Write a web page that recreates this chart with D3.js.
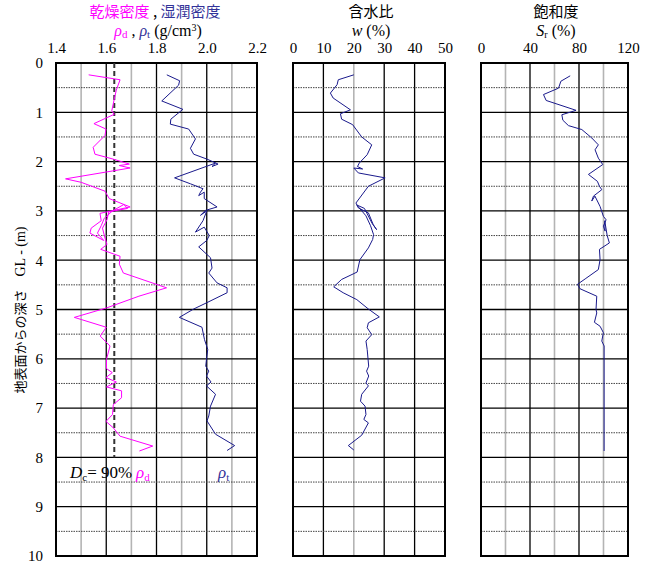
<!DOCTYPE html>
<html>
<head>
<meta charset="utf-8">
<script src="https://cdn.jsdelivr.net/npm/d3@7"></script>
<style>
body { margin: 0; background: #fff; }
</style>
</head>
<body>
<script>
// depth (m), value
var rhoD = [[0.24,1.53],[0.34,1.655],[0.55,1.64],[0.73,1.632],[0.97,1.622],[1.04,1.632],[1.23,1.551],[1.34,1.599],[1.47,1.595],[1.71,1.548],[1.85,1.555],[1.95,1.628],[2.05,1.692],[2.08,1.652],[2.13,1.695],[2.35,1.438],[2.42,1.50],[2.6,1.595],[2.75,1.612],[2.92,1.695],[2.99,1.63],[3.05,1.575],[3.2,1.58],[3.35,1.54],[3.45,1.535],[3.6,1.59],[3.45,1.565],[3.3,1.58],[3.15,1.592],[3.0,1.625],[2.87,1.67],[2.95,1.685],[3.02,1.61],[3.18,1.603],[3.35,1.585],[3.55,1.595],[3.68,1.603],[3.78,1.578],[3.92,1.655],[4.08,1.652],[4.26,1.668],[4.56,1.84],[4.73,1.73],[4.97,1.60],[5.16,1.473],[5.36,1.60],[5.54,1.576],[5.74,1.615],[6.01,1.601],[6.2,1.601],[6.28,1.624],[6.38,1.599],[6.47,1.64],[6.57,1.601],[6.65,1.661],[6.79,1.661],[6.93,1.628],[7.13,1.625],[7.27,1.599],[7.4,1.628],[7.57,1.655],[7.77,1.785],[7.87,1.732]]

var rhoT = [[0.24,1.841],[0.36,1.892],[0.45,1.888],[0.77,1.821],[0.94,1.905],[1.14,1.857],[1.24,1.855],[1.34,1.928],[1.54,1.955],[1.73,1.935],[1.85,1.948],[1.95,2.001],[2.05,2.045],[2.1,2.021],[2.03,2.035],[2.33,1.872],[2.45,1.935],[2.55,1.985],[2.62,1.975],[2.69,1.968],[2.62,1.99],[2.75,1.99],[2.92,2.041],[2.99,1.995],[3.09,1.975],[3.0,2.0],[3.2,1.985],[3.43,1.955],[3.33,1.99],[3.5,2.01],[3.6,2.0],[3.73,1.968],[3.95,2.015],[4.16,2.021],[4.26,2.008],[4.46,2.041],[4.56,2.081],[4.66,2.081],[4.86,2.001],[4.99,1.948],[5.16,1.891],[5.36,1.981],[5.61,1.991],[5.81,2.004],[6.01,1.999],[6.15,1.996],[6.25,2.008],[6.35,1.999],[6.47,2.017],[6.55,1.999],[6.72,2.035],[6.96,2.015],[7.16,2.008],[7.26,2.001],[7.53,2.035],[7.76,2.111],[7.86,2.081]]

var water = [[0.24,20.0],[0.34,14.9],[0.44,14.5],[0.61,12.3],[0.71,13.2],[0.95,18.9],[1.03,15.6],[1.14,16.0],[1.25,19.6],[1.5,22.6],[1.66,25.9],[1.86,24.4],[2.03,21.8],[2.1,21.2],[2.15,22.9],[2.13,20.0],[2.23,21.5],[2.33,30.3],[2.5,24.8],[2.84,20.7],[2.94,21.5],[3.04,24.8],[3.28,26.4],[3.38,27.5],[3.25,26.0],[2.95,23.5],[2.88,21.0],[3.1,24.0],[3.3,25.5],[3.48,26.5],[3.58,26.2],[3.75,24.8],[3.99,22.0],[4.24,21.1],[4.39,16.0],[4.54,13.4],[4.66,16.5],[4.8,21.0],[4.99,24.8],[5.15,28.4],[5.27,24.8],[5.37,24.4],[5.51,25.9],[5.64,24.0],[5.81,24.4],[6.15,24.9],[6.25,24.2],[6.35,24.9],[6.49,24.0],[6.55,24.8],[6.72,22.6],[6.86,22.2],[6.96,23.7],[7.13,24.0],[7.23,23.3],[7.3,24.8],[7.55,22.6],[7.76,18.2],[7.85,20.0]]

var satur = [[0.26,72.8],[0.37,65.2],[0.51,63.3],[0.64,51.0],[0.76,53.2],[0.96,77.6],[1.05,66.0],[1.16,66.8],[1.27,71.4],[1.35,82.3],[1.52,90.4],[1.66,95.8],[1.76,93.1],[1.93,95.8],[2.06,99.4],[2.26,87.7],[2.4,95],[2.5,96.7],[2.57,98.6],[2.7,91.8],[2.8,90.4],[2.7,93],[2.91,97.2],[3.11,99.9],[3.18,102.1],[3.31,99.9],[3.41,101.3],[3.2,101],[3.5,103],[3.65,104.8],[3.78,96.7],[3.99,97.2],[4.19,95.8],[4.38,85.0],[4.49,78.7],[4.58,80.9],[4.73,94.5],[5.0,93.9],[5.07,94.5],[5.26,92.6],[5.34,97.2],[5.47,99.9],[5.64,98.6],[5.74,100.5],[7.87,100.5]]

var dc90 = 1.632
var depthTicks = [0,1,2,3,4,5,6,7,8,9,10]
var ticksD = [1.4,1.6,1.8,2.0,2.2]
var ticksW = [0,10,20,30,40,50]
var ticksS = [0,40,80,120]
var gridD = [1.5,1.6,1.7,1.8,1.9,2.0,2.1]
var majorD = [1.6,1.8,2.0]
var gridW = [10,20,30,40]
var majorW = [10,30,40]
var gridS = [20,40,60,80,100]
var majorS = [40,80]

let width = 648
let height = 562
const serif = "Liberation Serif"
const gothic = "Noto Sans CJK JP"

var y = d3.scaleLinear().domain([0,10]).range([63,556])
var xD = d3.scaleLinear().domain([1.4,2.2]).range([56,257])
var xW = d3.scaleLinear().domain([0,50]).range([293,445])
var xS = d3.scaleLinear().domain([0,120]).range([481,628])

let svg = d3.select("body").append("svg")
    .attr("width", width)
    .attr("height", height)
    .attr("font-family", serif)

function panel(x, grid, major, ticks, fmt) {
    let g = svg.append("g")
    // vertical grid
    g.selectAll(".vg").data(grid).enter()
        .append("line")
        .attr("x1", d => x(d)).attr("x2", d => x(d))
        .attr("y1", y(0)).attr("y2", y(10))
        .attr("stroke", d => major.includes(d) ? "#000" : "#b4b4b4")
        .attr("stroke-width", d => major.includes(d) ? 1.3 : 1.6)
    // half-metre dotted lines
    g.selectAll(".hd").data(d3.range(0.5, 10, 1)).enter()
        .append("line")
        .attr("x1", x.range()[0]).attr("x2", x.range()[1])
        .attr("y1", d => y(d)).attr("y2", d => y(d))
        .attr("stroke", "#444").attr("stroke-width", 1)
        .attr("stroke-dasharray", "1.5,1")
    // metre lines
    g.selectAll(".hm").data(depthTicks.slice(1, 10)).enter()
        .append("line")
        .attr("x1", x.range()[0]).attr("x2", x.range()[1])
        .attr("y1", d => y(d)).attr("y2", d => y(d))
        .attr("stroke", "#000").attr("stroke-width", 1.3)
    g.append("rect")
        .attr("x", x.range()[0]).attr("y", y(0))
        .attr("width", x.range()[1] - x.range()[0])
        .attr("height", y(10) - y(0))
        .attr("fill", "none").attr("stroke", "#000").attr("stroke-width", 2)
    // top tick labels
    let ax = svg.append("g")
        .attr("transform", "translate(0," + (y(0) - 7) + ")")
        .call(d3.axisTop(x).tickValues(ticks).tickFormat(fmt).tickSize(0))
    ax.select(".domain").remove()
    ax.selectAll("text").attr("fill", "#000")
        .attr("font-family", serif).attr("font-size", 15)
}

panel(xD, gridD, majorD, ticksD, d3.format(".1f"))
panel(xW, gridW, majorW, ticksW, d3.format("d"))
panel(xS, gridS, majorS, ticksS, d3.format("d"))

// depth labels
let ay = svg.append("g")
    .attr("transform", "translate(46,0)")
    .call(d3.axisLeft(y).tickValues(depthTicks).tickFormat(d3.format("d")).tickSize(0))
ay.select(".domain").remove()
ay.selectAll("text").attr("fill", "#000")
    .attr("font-family", serif).attr("font-size", 15)

// Dc = 90% line
svg.append("line")
    .attr("x1", xD(dc90)).attr("x2", xD(dc90))
    .attr("y1", y(0)).attr("y2", y(8))
    .attr("stroke", "#333").attr("stroke-width", 2)
    .attr("stroke-dasharray", "5,3")

function curve(data, x, color) {
    svg.append("path")
        .datum(data)
        .attr("d", d3.line().x(d => x(d[1])).y(d => y(d[0])))
        .attr("fill", "none")
        .attr("stroke", color)
        .attr("stroke-width", 1)
}
curve(rhoD, xD, "#ff00ff")
curve(rhoT, xD, "#1a1a8c")
curve(water, xW, "#1a1a8c")
curve(satur, xS, "#1a1a8c")

// titles
let t1 = svg.append("text").attr("x", 155).attr("y", 17)
    .attr("text-anchor", "middle").attr("font-family", gothic).attr("font-size", 15)
t1.append("tspan").attr("fill", "#ff00ff").text("乾燥密度")
t1.append("tspan").attr("fill", "#000").text(" , ")
t1.append("tspan").attr("fill", "#333399").text("湿潤密度")

let t2 = svg.append("text").attr("x", 158).attr("y", 36)
    .attr("text-anchor", "middle").attr("font-family", serif).attr("font-size", 16)
t2.append("tspan").attr("fill", "#ff00ff").attr("font-style", "italic").text("ρ")
t2.append("tspan").attr("fill", "#ff00ff").attr("dy", 2).attr("font-size", 11).text("d")
t2.append("tspan").attr("fill", "#000").attr("dy", -2).text(" , ")
t2.append("tspan").attr("fill", "#333399").attr("font-style", "italic").text("ρ")
t2.append("tspan").attr("fill", "#333399").attr("dy", 2).attr("font-size", 11).text("t")
t2.append("tspan").attr("fill", "#000").attr("dy", -2).text(" (g/cm")
t2.append("tspan").attr("fill", "#000").attr("dy", -5).attr("font-size", 10).text("3")
t2.append("tspan").attr("fill", "#000").attr("dy", 5).text(")")

svg.append("text").attr("x", 371).attr("y", 17)
    .attr("text-anchor", "middle").attr("font-family", gothic).attr("font-size", 15).text("含水比")
let t3 = svg.append("text").attr("x", 371).attr("y", 36)
    .attr("text-anchor", "middle").attr("font-family", serif).attr("font-size", 16)
t3.append("tspan").attr("font-style", "italic").text("w")
t3.append("tspan").text(" (%)")

svg.append("text").attr("x", 556).attr("y", 17)
    .attr("text-anchor", "middle").attr("font-family", gothic).attr("font-size", 15).text("飽和度")
let t4 = svg.append("text").attr("x", 556).attr("y", 36)
    .attr("text-anchor", "middle").attr("font-family", serif).attr("font-size", 16)
t4.append("tspan").attr("font-style", "italic").text("S")
t4.append("tspan").attr("dy", 2).attr("font-size", 10).text("r")
t4.append("tspan").attr("dy", -2).text(" (%)")

// y label
let yl = svg.append("text")
    .attr("transform", "translate(25,310) rotate(-90)")
    .attr("text-anchor", "middle").attr("font-size", 13)
yl.append("tspan").attr("font-family", gothic).text("地表面からの深さ　")
yl.append("tspan").attr("font-family", serif).attr("font-size", 14).text("GL - (m)")

// annotations
let a1 = svg.append("text").attr("x", 70).attr("y", 478).attr("font-family", serif).attr("font-size", 17)
a1.append("tspan").attr("font-style", "italic").text("D")
a1.append("tspan").attr("dy", 3).attr("font-size", 11).text("c")
a1.append("tspan").attr("dy", -3).text("= 90%")
let a2 = svg.append("text").attr("x", 136).attr("y", 478).attr("fill", "#ff00ff").attr("font-family", serif).attr("font-size", 17)
a2.append("tspan").attr("font-style", "italic").text("ρ")
a2.append("tspan").attr("dy", 3).attr("font-size", 11).text("d")
let a3 = svg.append("text").attr("x", 218).attr("y", 478).attr("fill", "#333399").attr("font-family", serif).attr("font-size", 17)
a3.append("tspan").attr("font-style", "italic").text("ρ")
a3.append("tspan").attr("dy", 3).attr("font-size", 11).text("t")
</script>
</body>
</html>
